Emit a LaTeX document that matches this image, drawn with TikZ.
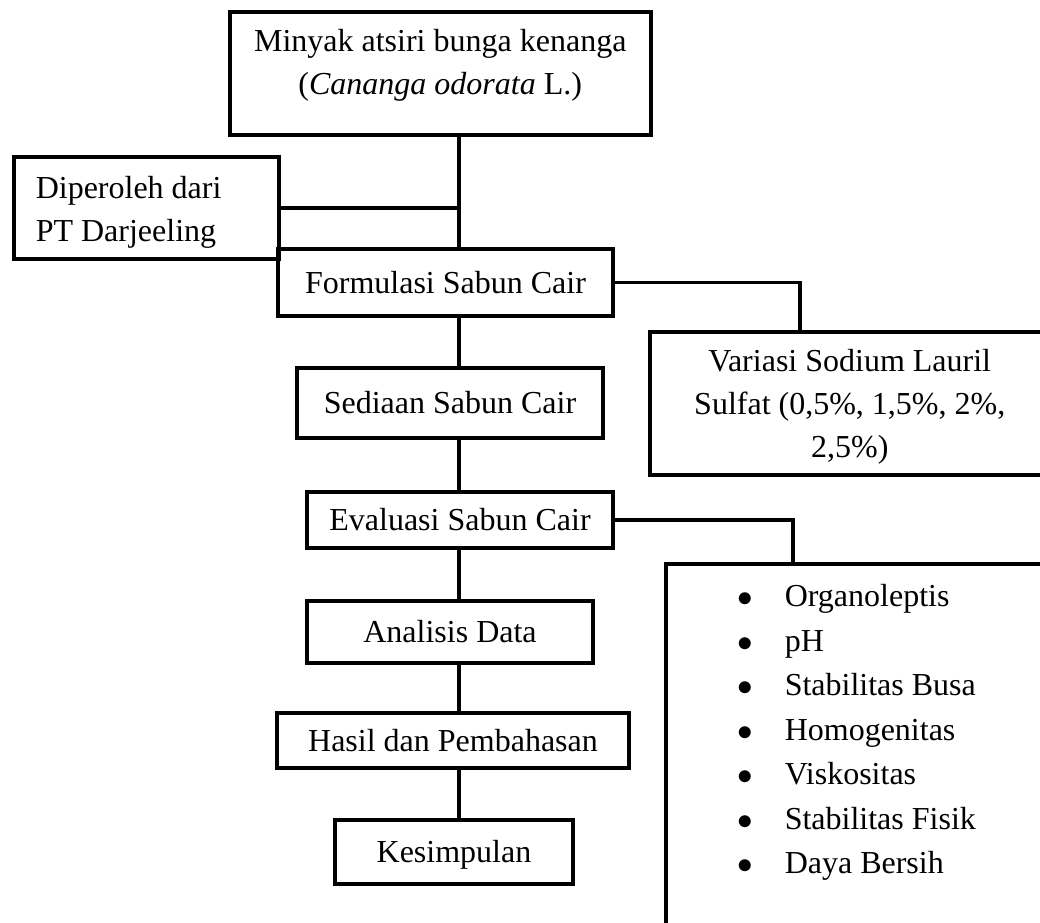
\documentclass[tikz,border=0pt]{standalone}
\usepackage{fontspec}
\setmainfont{Liberation Serif}
\usepackage{tikz}

\begin{document}
\begin{tikzpicture}[
  x=1pt, y=-1pt,
  box/.style={draw, rectangle, line width=3.5pt, inner sep=0pt,
    font=\fontsize{32}{43}\selectfont},
  single/.style={box, text height=21pt, text depth=0pt},
  link/.style={line width=3.5pt}
]
  \useasboundingbox (0,0) rectangle (1040,922);
  \coordinate (spine) at (459,0);

  % main column
  \node[
    box,
    anchor=north west,
    text width=421pt,
    align=flush center,
    text height=40pt,
    text depth=83pt
  ] (minyak) at (228,10) {Minyak atsiri bunga kenanga\\(\textit{Cananga odorata} L.)};
  \node[
    box,
    anchor=north west,
    inner xsep=22pt,
    text width=221pt,
    align=flush left,
    text height=42pt,
    text depth=60pt
  ] (dari) at (12,155) {Diperoleh dari\\PT Darjeeling};
  \node[single, minimum width=335pt, minimum height=67pt] (formulasi) at (445.5,282.5) {Formulasi Sabun Cair};
  \node[single, minimum width=306pt, minimum height=70pt] (sediaan) at (450,403) {Sediaan Sabun Cair};
  \node[single, minimum width=306pt, minimum height=56pt] (evaluasi) at (460,520) {Evaluasi Sabun Cair};
  \node[single, minimum width=286pt, minimum height=62pt] (analisis) at (450,632) {Analisis Data};
  \node[single, minimum width=352pt, minimum height=55pt] (hasil) at (453,740.5) {Hasil dan Pembahasan};
  \node[single, minimum width=238pt, minimum height=64pt] (kesimpulan) at (454,852) {Kesimpulan};

  % side boxes
  \node[
    box,
    anchor=north west,
    inner xsep=20pt,
    text width=360pt,
    align=flush center,
    text height=40pt,
    text depth=103pt
  ] (variasi) at (648,330) {Variasi Sodium Lauril\\Sulfat (0,5\%, 1,5\%, 2\%,\\2,5\%)};
  \node[
    box,
    anchor=north west,
    inner xsep=72pt,
    text width=300pt,
    align=flush left,
    text height=43pt,
    text depth=400pt,
    font=\fontsize{32}{44.5}\selectfont
  ] (uji) at (664,562) {%
    \makebox[47pt][l]{\scalebox{1.25}{$\bullet$}}Organoleptis\\
    \makebox[47pt][l]{\scalebox{1.25}{$\bullet$}}pH\\
    \makebox[47pt][l]{\scalebox{1.25}{$\bullet$}}Stabilitas Busa\\
    \makebox[47pt][l]{\scalebox{1.25}{$\bullet$}}Homogenitas\\
    \makebox[47pt][l]{\scalebox{1.25}{$\bullet$}}Viskositas\\
    \makebox[47pt][l]{\scalebox{1.25}{$\bullet$}}Stabilitas Fisik\\
    \makebox[47pt][l]{\scalebox{1.25}{$\bullet$}}Daya Bersih};

  % connectors
  \draw[link] (minyak.south -| spine) -- (formulasi.north -| spine);
  \draw[link] (dari.east) -- (dari.east -| spine);
  \draw[link] (formulasi.south -| spine) -- (sediaan.north -| spine);
  \draw[link] (sediaan.south -| spine) -- (evaluasi.north -| spine);
  \draw[link] (evaluasi.south -| spine) -- (analisis.north -| spine);
  \draw[link] (analisis.south -| spine) -- (hasil.north -| spine);
  \draw[link] (hasil.south -| spine) -- (kesimpulan.north -| spine);
  \draw[link] (formulasi.east) -| ([xshift=152pt]variasi.north west);
  \draw[link] (evaluasi.east) -| ([xshift=129pt]uji.north west);
\end{tikzpicture}
\end{document}
